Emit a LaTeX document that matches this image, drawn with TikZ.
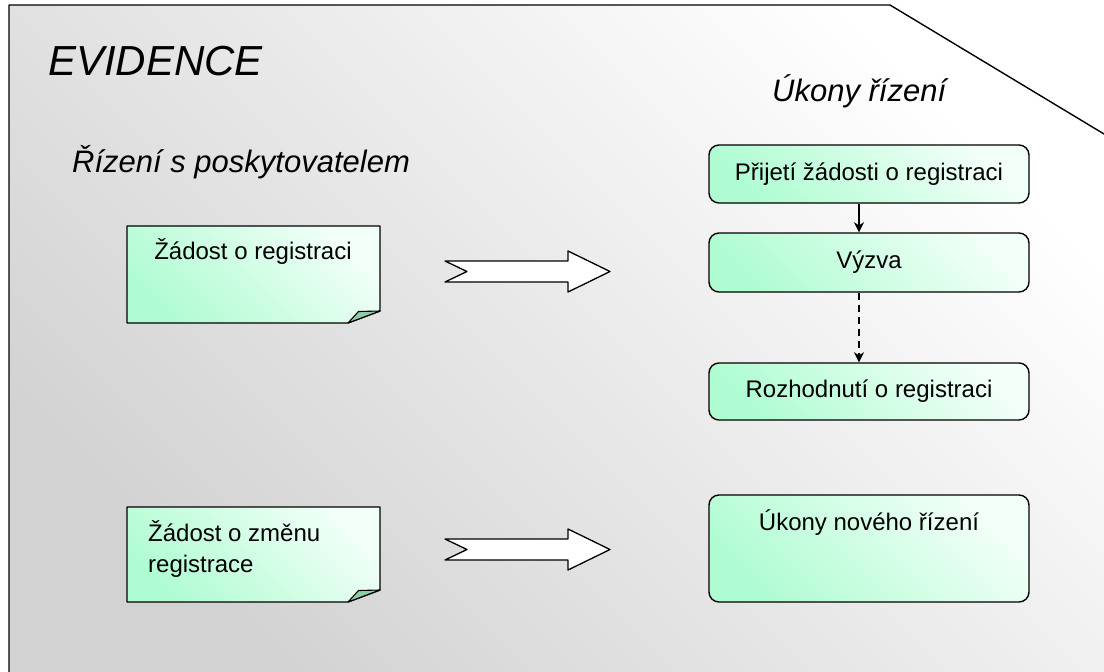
\documentclass[tikz,border=0pt]{standalone}
\usepackage{fontspec}
\setmainfont{Liberation Sans}
\usetikzlibrary{arrows.meta}
\definecolor{bgGray}{RGB}{210,210,210}
\definecolor{noteGreen}{RGB}{176,252,210}
\definecolor{noteLight}{RGB}{242,255,248}
\definecolor{foldGreen}{RGB}{140,205,168}
\begin{document}
\begin{tikzpicture}[x=1pt,y=-1pt,line join=round,
  outline/.style={draw=black,line width=1.4pt},
  greenfill/.style={top color=noteLight,bottom color=noteGreen,shading angle=-45},
  notebox/.style={outline,greenfill},
  fold/.style={draw=black,line width=1.1pt,fill=foldGreen},
  blockarrow/.style={draw=black,line width=1.3pt,fill=white},
  stepbox/.style={outline,greenfill,rounded corners=10pt,minimum width=320pt,inner sep=0pt},
  body/.style={inner sep=0pt,font=\fontsize{24}{29}\selectfont},
  heading/.style={inner sep=0pt,font=\fontsize{31}{36}\selectfont\itshape},
  link/.style={line width=1.8pt,-{Stealth[length=10pt,width=10pt,inset=3pt]}}]
\useasboundingbox (0,0) rectangle (1104,672);
% background panel
\path[top color=white,bottom color=bgGray,shading angle=-45]
  (9,5) -- (890,5) -- (1104,134) -- (1104,672) -- (9,672) -- cycle;
\draw[line width=1.4pt] (9,680) -- (9,5) -- (890,5) -- (1110,137.6);
% headings
\node[heading,anchor=base west,font=\fontsize{42}{48}\selectfont\itshape] (title) at (48,75) {EVIDENCE};
\node[heading,anchor=base west] (left) at (72,172) {Řízení s poskytovatelem};
\node[heading,anchor=base west] (right) at (772,101) {Úkony řízení};
% note 1
\path[notebox] (127,226) -- (380,226) -- (380,311) -- (348,323) -- (127,323) -- cycle;
\draw[fold] (348,323) -- (358.5,311.5) -- (380,311) -- cycle;
\node[body,anchor=base] (n1) at (253,259) {Žádost o registraci};
% note 2
\path[notebox] (127,507) -- (380,507) -- (380,590) -- (348,602) -- (127,602) -- cycle;
\draw[fold] (348,602) -- (358.5,590.5) -- (380,590) -- cycle;
\node[body,anchor=base west] (n2a) at (148,541) {Žádost o změnu};
\node[body,anchor=base west] (n2b) at (148,572) {registrace};
% block arrows
\draw[blockarrow] (445,261) -- (568,261) -- (568,251) -- (610,271.5) -- (568,292) -- (568,282) -- (445,282) -- (467,271.5) -- cycle;
\draw[blockarrow] (445,539) -- (568,539) -- (568,529) -- (610,549.5) -- (568,570) -- (568,560) -- (445,560) -- (467,549.5) -- cycle;
% step boxes
\node[stepbox,minimum height=58pt] (b1) at (869,174) {};
\node[body] (b1t) at (869,174) {Přijetí žádosti o registraci};
\node[stepbox,minimum height=59pt] (b2) at (869,262.5) {};
\node[body] (b2t) at (869,262.5) {Výzva};
\node[stepbox,minimum height=57pt] (b3) at (869,391.5) {};
\node[body] (b3t) at (869,391.5) {Rozhodnutí o registraci};
\node[stepbox,minimum height=107pt] (b4) at (869,548.5) {};
\node[body] (b4t) at (869,523) {Úkony nového řízení};
% connectors
\draw[link] ([xshift=-10pt]b1.south) -- ([xshift=-10pt]b2.north);
\draw[link,dash pattern=on 7pt off 5pt] ([xshift=-10pt]b2.south) -- ([xshift=-10pt]b3.north);
\end{tikzpicture}
\end{document}
